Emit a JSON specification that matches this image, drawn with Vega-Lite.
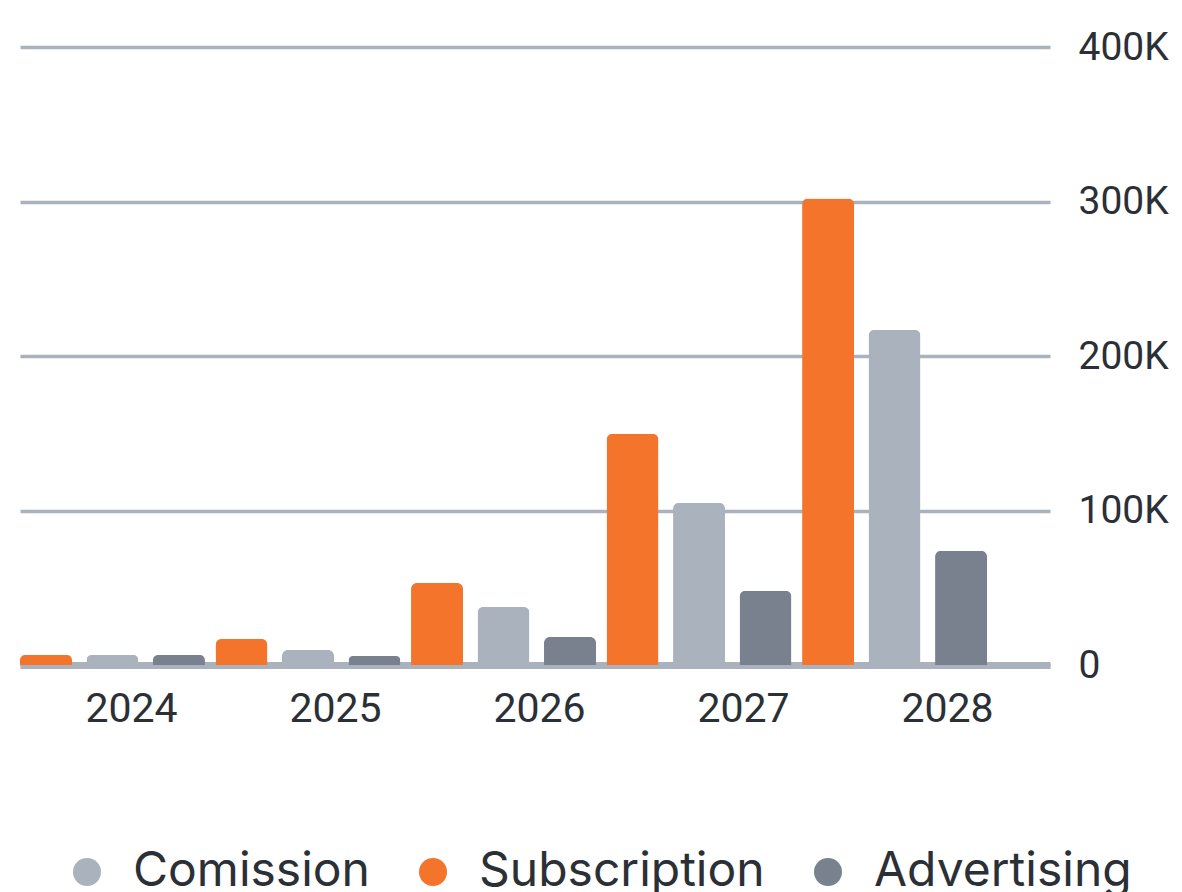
{
  "$schema": "https://vega.github.io/schema/vega-lite/v6.json",
  "width": 1030,
  "height": 618,
  "autosize": {"type": "none"},
  "padding": {"left": 20, "top": 47, "right": 132, "bottom": 227},
  "background": "#ffffff",
  "data": {
    "values": [
      {"year": "2024", "series": "Subscription", "value": 6500},
      {"year": "2024", "series": "Comission", "value": 6500},
      {"year": "2024", "series": "Advertising", "value": 6500},
      {"year": "2025", "series": "Subscription", "value": 16800},
      {"year": "2025", "series": "Comission", "value": 9700},
      {"year": "2025", "series": "Advertising", "value": 5800},
      {"year": "2026", "series": "Subscription", "value": 53000},
      {"year": "2026", "series": "Comission", "value": 37600},
      {"year": "2026", "series": "Advertising", "value": 18100},
      {"year": "2027", "series": "Subscription", "value": 149700},
      {"year": "2027", "series": "Comission", "value": 105000},
      {"year": "2027", "series": "Advertising", "value": 48000},
      {"year": "2028", "series": "Subscription", "value": 302000},
      {"year": "2028", "series": "Comission", "value": 217000},
      {"year": "2028", "series": "Advertising", "value": 73900}
    ]
  },
  "config": {
    "view": {"stroke": null},
    "axis": {"labelFont": "Roboto", "labelColor": "#2b2f36"},
    "legend": {"labelFont": "Inter", "labelColor": "#2b2f36"}
  },
  "layer": [
    {
      "mark": {"type": "bar", "cornerRadiusTopLeft": 6, "cornerRadiusTopRight": 6},
      "encoding": {
        "x": {
          "field": "year",
          "type": "nominal",
          "scale": {"paddingInner": 0.054, "paddingOuter": 0.161, "align": 0},
          "axis": null
        },
        "xOffset": {
          "field": "series",
          "type": "nominal",
          "sort": ["Subscription", "Comission", "Advertising"],
          "scale": {"paddingInner": 0.218, "paddingOuter": 0}
        },
        "y": {
          "field": "value",
          "type": "quantitative",
          "scale": {"domain": [0, 400000], "nice": false},
          "axis": {
            "orient": "right",
            "title": null,
            "values": [0, 100000, 200000, 300000, 400000],
            "labelExpr": "datum.value == 0 ? '0' : format(datum.value / 1000, 'd') + 'K'",
            "grid": true,
            "gridColor": "#aab2bd",
            "gridWidth": 3.5,
            "domain": false,
            "ticks": false,
            "labelFontSize": 39,
            "labelPadding": 28,
            "labelAlign": "left"
          }
        },
        "color": {
          "field": "series",
          "type": "nominal",
          "scale": {
            "domain": ["Comission", "Subscription", "Advertising"],
            "range": ["#aab2bd", "#f4742c", "#79818f"]
          },
          "legend": {
            "title": null,
            "orient": "none",
            "direction": "horizontal",
            "legendX": 43,
            "legendY": 801,
            "padding": 0,
            "symbolType": "circle",
            "symbolSize": 784,
            "symbolStrokeWidth": 0,
            "labelFontSize": 48,
            "labelOffset": 22,
            "columnPadding": 39,
            "labelLimit": 400
          }
        }
      }
    },
    {
      "mark": {"type": "point", "opacity": 0},
      "encoding": {
        "x": {
          "field": "year",
          "type": "nominal",
          "scale": {"type": "band", "paddingInner": 0, "paddingOuter": 0.0245, "align": 0.95},
          "axis": {
            "title": null,
            "labelAngle": 0,
            "labelFontSize": 41,
            "labelPadding": 24,
            "ticks": false,
            "domain": true,
            "domainColor": "#aab2bd",
            "domainWidth": 7
          }
        },
        "y": {"datum": 0}
      }
    }
  ],
  "resolve": {"scale": {"x": "independent"}, "axis": {"x": "independent"}}
}
